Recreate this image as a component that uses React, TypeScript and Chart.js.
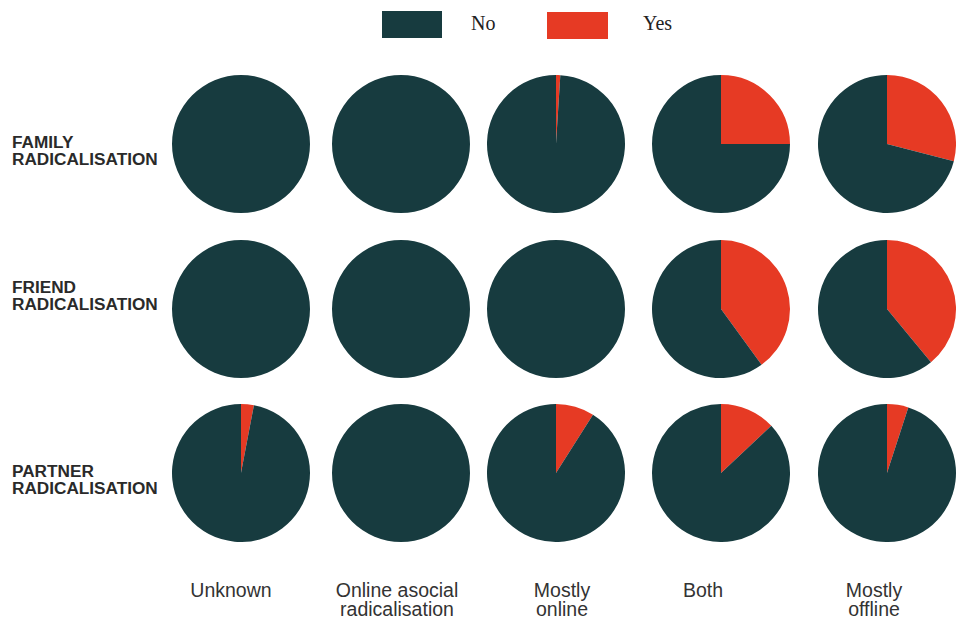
import React, { useEffect, useRef } from "react";
import { Chart, registerables } from "chart.js";

Chart.register(...registerables);

// ---- data ----
const columnLabels = ["Unknown", "Online asocial\nradicalisation", "Mostly\nonline", "Both", "Mostly\noffline"];
const rowLabels = ["FAMILY\nRADICALISATION", "FRIEND\nRADICALISATION", "PARTNER\nRADICALISATION"];
const seriesLabels = ["Yes", "No"];

// percentage share of "Yes" / "No" per column (Unknown, Online asocial, Mostly online, Both, Mostly offline)
const familyYes = [0, 0, 1, 25, 29];
const familyNo = [100, 100, 99, 75, 71];
const friendYes = [0, 0, 0, 40, 39];
const friendNo = [100, 100, 100, 60, 61];
const partnerYes = [3, 0, 9, 13, 5];
const partnerNo = [97, 100, 91, 87, 95];

const yesRows = [familyYes, friendYes, partnerYes];
const noRows = [familyNo, friendNo, partnerNo];

// ---- layout / style ----
const DARK = "#173b3f";
const RED = "#e63a24";
const PIE_X = [241, 401, 556, 721, 887];
const PIE_Y = [144, 309, 473];
const PIE_R = 69;
const COL_LABEL_X = [231, 397, 562, 703, 874];
const ROW_LABEL_TOP = [134, 279, 463];

function Pie({ yes, no, cx, cy }: { yes: number; no: number; cx: number; cy: number }) {
  const ref = useRef<HTMLCanvasElement>(null);
  useEffect(() => {
    if (!ref.current) return;
    const chart = new Chart(ref.current, {
      type: "pie",
      data: {
        labels: seriesLabels,
        datasets: [
          {
            data: [yes, no],
            backgroundColor: [RED, DARK],
            borderWidth: 0,
            hoverBorderWidth: 0,
            hoverOffset: 0,
          },
        ],
      },
      options: {
        responsive: false,
        animation: false,
        rotation: 0,
        layout: { padding: 0 },
        plugins: { legend: { display: false }, tooltip: { enabled: false } },
        events: [],
      },
    });
    return () => chart.destroy();
  }, [yes, no]);
  const size = PIE_R * 2;
  return (
    <canvas
      ref={ref}
      width={size}
      height={size}
      style={{ position: "absolute", left: cx - PIE_R, top: cy - PIE_R, width: size, height: size }}
    />
  );
}

export default function App() {
  return (
    <div
      style={{
        position: "absolute",
        left: 0,
        top: 0,
        width: 959,
        height: 617,
        background: "#ffffff",
        overflow: "hidden",
      }}
    >
      {/* legend */}
      <div style={{ position: "absolute", left: 382, top: 11, width: 60, height: 27, background: DARK }} />
      <div
        style={{
          position: "absolute",
          left: 471,
          top: 10,
          fontFamily: "'Liberation Serif', serif",
          fontSize: 20,
          lineHeight: "26px",
          color: "#222",
        }}
      >
        {seriesLabels[1]}
      </div>
      <div style={{ position: "absolute", left: 547, top: 12, width: 61, height: 27, background: RED }} />
      <div
        style={{
          position: "absolute",
          left: 643,
          top: 10,
          fontFamily: "'Liberation Serif', serif",
          fontSize: 20,
          lineHeight: "26px",
          color: "#222",
        }}
      >
        {seriesLabels[0]}
      </div>

      {/* row labels */}
      {rowLabels.map((r, i) => (
        <div
          key={r}
          style={{
            position: "absolute",
            left: 12,
            top: ROW_LABEL_TOP[i],
            fontFamily: "'Liberation Sans', Arial, sans-serif",
            fontWeight: 700,
            fontSize: 17.2,
            lineHeight: "17px",
            color: "#2a2a2a",
            whiteSpace: "pre",
          }}
        >
          {r}
        </div>
      ))}

      {/* pies */}
      {yesRows.map((row, ri) =>
        row.map((y, ci) => (
          <Pie key={`${ri}-${ci}`} yes={y} no={noRows[ri][ci]} cx={PIE_X[ci]} cy={PIE_Y[ri]} />
        ))
      )}

      {/* column labels */}
      {columnLabels.map((c, i) => (
        <div
          key={c}
          style={{
            position: "absolute",
            left: COL_LABEL_X[i] - 100,
            top: 581,
            width: 200,
            textAlign: "center",
            fontFamily: "'Liberation Sans', Arial, sans-serif",
            fontSize: 19.5,
            lineHeight: "18.5px",
            color: "#333",
            whiteSpace: "pre",
          }}
        >
          {c}
        </div>
      ))}
    </div>
  );
}
